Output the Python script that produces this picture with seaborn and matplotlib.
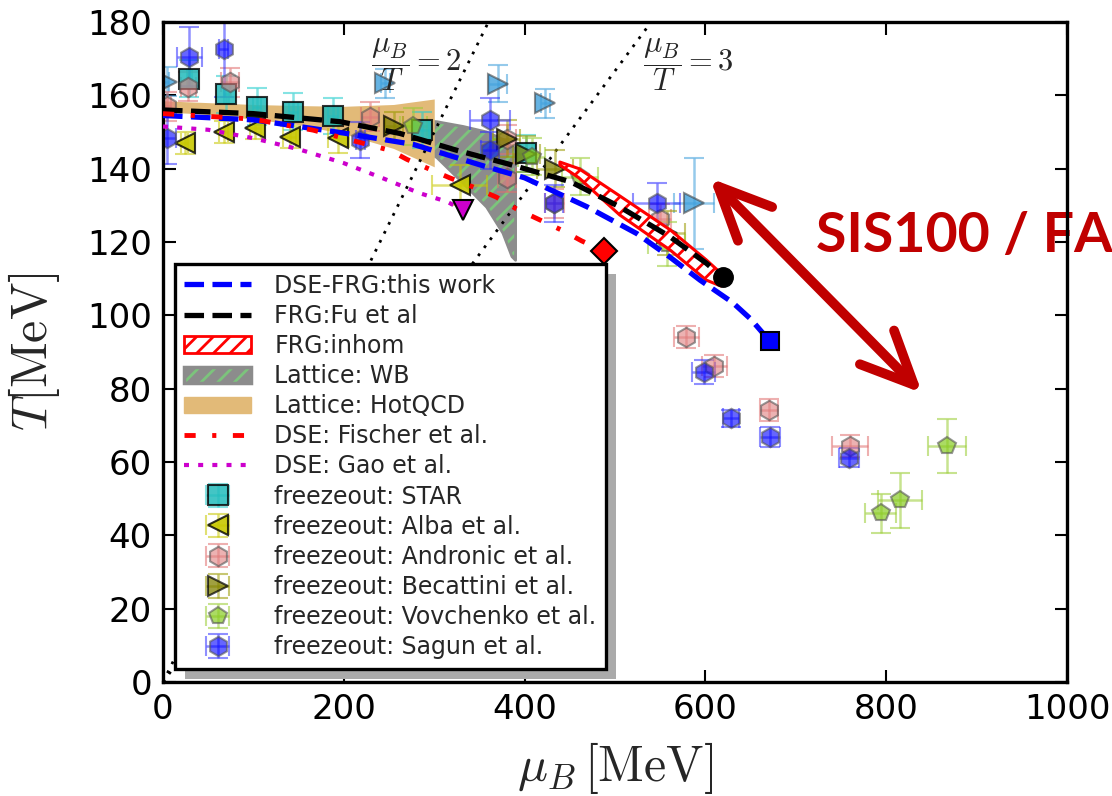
import numpy as np
import matplotlib
matplotlib.use("Agg")
import matplotlib.pyplot as plt
import seaborn as sns
from matplotlib.colors import to_rgba
from matplotlib.lines import Line2D
from matplotlib.patches import Patch, Rectangle, FancyArrowPatch
from matplotlib.transforms import IdentityTransform

sns.set_theme(style="ticks")
plt.rcParams["font.family"] = ["DejaVu Sans"]
plt.rcParams["mathtext.fontset"] = "cm"
plt.rcParams["hatch.linewidth"] = 2.0

#Crossover / transition lines
dse_frg_mu = [0, 100, 200, 277, 351, 400, 469, 524, 560, 594, 630, 650, 671]
dse_frg_T = [154.5, 153.3, 149.7, 146.6, 141, 137.5, 129.6, 122.3, 116, 109.6, 103.5, 99, 93]

frg_fu_mu = [0, 100, 196, 262, 325, 380, 451, 505, 561, 601, 619]
frg_fu_T = [156, 155, 152.8, 149.6, 145, 141.4, 136.4, 129.6, 121.4, 114.2, 110.4]

fischer_mu = [0, 100, 166, 220, 251, 270, 317, 343, 369, 391, 417, 443, 463, 488]
fischer_T = [155, 153.5, 150.5, 147, 145, 142.5, 137.5, 135, 132.2, 129, 126, 123, 120.3, 117.5]

gao_mu = [0, 50, 100, 150, 200, 244, 284, 314, 332]
gao_T = [151.5, 150.6, 148.3, 145.3, 141.5, 137.3, 133.3, 131, 128.7]

#Bands
hotqcd_mu = [0, 50, 100, 150, 200, 255, 300]
hotqcd_hi = [158.5, 158, 157.5, 157.2, 157, 157.5, 159]
hotqcd_lo = [155.5, 154.8, 153.5, 152, 149.5, 145.5, 140.5]

wb_mu = [290, 303, 332, 358, 376, 386, 390]
wb_hi = [153, 152.8, 151.5, 150, 148, 146, 145.5]
wb_lo = [145, 143, 136, 129.5, 122.4, 116, 115]

inhom_mu = [439, 460, 505, 561, 601, 617]
inhom_hi = [141.8, 140, 132.6, 123.3, 115.1, 111.5]
inhom_lo = [141, 137.5, 127.4, 117.8, 109.6, 108]

#mu_B/T = const lines
ratio2_mu = [0, 360]
ratio2_T = [0, 180]
ratio3_mu = [0, 540]
ratio3_T = [0, 180]

#Freeze-out data
star_mu = [29, 70, 104, 144, 188, 286, 402]
star_T = [164.5, 160.3, 156.9, 155.5, 154.4, 150.5, 144.2]
star_muerr = [3, 3, 4, 5, 6, 8, 10]
star_Terr = [5, 5, 5, 5, 5, 5, 5]

alba_mu = [24, 67, 102, 140, 194, 328]
alba_T = [147, 150, 151, 148.5, 148.3, 135.5]
alba_muerr = [4, 5, 6, 7, 12, 30]
alba_Terr = [3, 3, 3, 3, 4, 5.5]

andronic_mu = [4, 28, 74, 229, 380, 380, 433, 550, 579, 610, 670, 760]
andronic_T = [157, 162.4, 163.5, 154.2, 148, 137.5, 130.5, 126.4, 94.2, 86.3, 74.2, 64.4]
andronic_muerr = [5, 8, 10, 10, 10, 10, 10, 12, 14, 14, 10, 20]
andronic_Terr = [4, 4, 4, 4, 4, 4, 4, 4, 3, 3, 3, 3]

becattini_mu = [255, 380, 402, 434, 557]
becattini_T = [151.5, 148.2, 144, 140, 122.4]
becattini_muerr = [10, 15, 15, 20, 20]
becattini_Terr = [4, 5, 5, 5, 6]

vovchenko_mu = [277, 408, 461, 557, 794, 815, 867]
vovchenko_T = [151.5, 143.3, 137.8, 119.5, 46, 49.6, 64.4]
vovchenko_muerr = [15, 15, 20, 20, 17, 24, 21]
vovchenko_Terr = [5, 5, 5, 6, 5.3, 7.5, 7.4]

sagun_mu = [4, 29, 67, 218, 362, 362, 432, 546, 598, 628, 671, 759]
sagun_T = [148.3, 170.5, 172.5, 147.8, 153.3, 145, 130.5, 130.5, 84.6, 71.9, 66.9, 61.2]
sagun_muerr = [10, 14, 5, 5, 22, 10, 10, 26, 13, 9, 11, 11]
sagun_Terr = [7, 8, 13, 5, 6, 5, 5, 5.5, 3.2, 2.3, 2.7, 2.7]

other_mu = [4, 246, 371, 423, 587]
other_T = [163.7, 163.3, 163.2, 157.8, 130.5]
other_muerr = [3, 5, 10, 5, 22]
other_Terr = [4, 4, 5, 4, 12.3]

legend_labels = ["DSE-FRG:this work", "FRG:Fu et al", "FRG:inhom", "Lattice: WB",
                 "Lattice: HotQCD", "DSE: Fischer et al.", "DSE: Gao et al.",
                 "freezeout: STAR", "freezeout: Alba et al.", "freezeout: Andronic et al.",
                 "freezeout: Becattini et al.", "freezeout: Vovchenko et al.",
                 "freezeout: Sagun et al."]

#Figure
fig = plt.figure(figsize=(11.12, 7.96), dpi=100)
ax = fig.add_axes([0.1466, 0.1432, 0.813, 0.8292])

#Bands
ax.fill_between(hotqcd_mu, hotqcd_lo, hotqcd_hi, color="#E2BA78", lw=0, zorder=1.2)
ax.fill_between(wb_mu, wb_lo, wb_hi, facecolor="#8C8C8C", edgecolor="#7CC47C",
                hatch="//", lw=0, zorder=1.1)
ax.fill_between(wb_mu, wb_lo, wb_hi, facecolor="none", edgecolor="#8C8C8C", lw=2, zorder=1.1)
ax.fill_between(inhom_mu, inhom_lo, inhom_hi, facecolor="white", edgecolor="red",
                hatch="//", lw=2.2, zorder=2.6)

#Dotted mu_B/T lines
for xs, ys in [(ratio2_mu, ratio2_T), (ratio3_mu, ratio3_T)]:
    ax.plot(xs, ys, color="black", lw=2, ls=(0, (1, 2.6)), zorder=1.5)

#Freeze-out points
def freeze(xs, ys, xe, ye, marker, ms, face, fa, edge, ea, ecol, lab=None):
    return ax.errorbar(xs, ys, xerr=xe, yerr=ye, fmt=marker, ms=ms,
                       mfc=to_rgba(face, fa), mec=to_rgba(edge, ea), mew=1.5,
                       ecolor=to_rgba(ecol, 0.55), elinewidth=1.8, capsize=7,
                       capthick=1.8, ls="none", zorder=2, label=lab)

freeze(other_mu, other_T, other_muerr, other_Terr, ">", 14, "#3FA0DC", 0.8, "#444444", 0.6, "#3FA0DC")
eb_star = freeze(star_mu, star_T, star_muerr, star_Terr, "s", 14, "#22BBBB", 0.85, "black", 0.8, "#22CCCC")
eb_alba = freeze(alba_mu, alba_T, alba_muerr, alba_Terr, "<", 15, "#C8C800", 0.9, "black", 0.8, "#C8C800")
eb_andr = freeze(andronic_mu, andronic_T, andronic_muerr, andronic_Terr, "h", 14, "#E08080", 0.6, "#555555", 0.6, "#E07070")
eb_beca = freeze(becattini_mu, becattini_T, becattini_muerr, becattini_Terr, ">", 15, "#808000", 0.75, "black", 0.7, "#999900")
eb_vovc = freeze(vovchenko_mu, vovchenko_T, vovchenko_muerr, vovchenko_Terr, "p", 13, "#88CC22", 0.7, "#555555", 0.6, "#99CC33")
eb_sagn = freeze(sagun_mu, sagun_T, sagun_muerr, sagun_Terr, "h", 14, "#0000FF", 0.6, "#555555", 0.6, "#3333FF")

#Lines through seaborn
dash = (0, (3.7, 1.6))
dashdot = (0, (2.3, 3.4, 0.85, 3.4))
dotted = (0, (1.2, 2.2))
sns.lineplot(x=dse_frg_mu, y=dse_frg_T, ax=ax, sort=False, estimator=None,
             color="blue", lw=3.8, linestyle=dash, zorder=3)
sns.lineplot(x=frg_fu_mu, y=frg_fu_T, ax=ax, sort=False, estimator=None,
             color="black", lw=3.8, linestyle=dash, zorder=3)
sns.lineplot(x=fischer_mu, y=fischer_T, ax=ax, sort=False, estimator=None,
             color="red", lw=3.5, linestyle=dashdot, zorder=3)
sns.lineplot(x=gao_mu, y=gao_T, ax=ax, sort=False, estimator=None,
             color="#CC00CC", lw=3, linestyle=dotted, zorder=3)

#Critical end points
ax.plot(dse_frg_mu[-1], dse_frg_T[-1], "s", ms=13, mfc="blue", mec="black", mew=1.5, zorder=4)
ax.plot(frg_fu_mu[-1], frg_fu_T[-1], "o", ms=14, mfc="black", mec="black", zorder=4)
ax.plot(fischer_mu[-1], fischer_T[-1], "D", ms=13, mfc="red", mec="black", mew=1.5, zorder=4)
ax.plot(gao_mu[-1], gao_T[-1], "v", ms=15, mfc="#CC00CC", mec="black", mew=1.5, zorder=4)

#Texts and arrow
ax.text(230, 168.3, r"$\dfrac{\mu_B}{T}=2$", fontsize=22, va="center", ha="left", zorder=4)
ax.text(531, 168.3, r"$\dfrac{\mu_B}{T}=3$", fontsize=22, va="center", ha="left", zorder=4)
ax.text(722, 117.3, "SIS100 / FA", fontsize=40, fontweight="bold", family=["Lato", "DejaVu Sans"],
        color="#C00000", va="baseline", ha="left", clip_on=False, zorder=2)
arrow = FancyArrowPatch((605, 137.4), (839.6, 78.8), arrowstyle="<->,head_length=1.05,head_width=0.48",
                        mutation_scale=36, lw=7, color="#C00000", capstyle="round",
                        joinstyle="round", shrinkA=0, shrinkB=0, zorder=6)
ax.add_patch(arrow)

#Axes
ax.set_xlim(0, 1000)
ax.set_ylim(0, 180)
ax.set_xticks(range(0, 1001, 200))
ax.set_yticks(range(0, 181, 20))
ax.tick_params(direction="in", top=True, right=True, length=9, width=1.5,
               labelsize=24.5, pad=8, colors="black")
for sp in ax.spines.values():
    sp.set_linewidth(2.4)
    sp.set_color("black")
ax.set_xlabel(r"$\mu_B\,[\mathrm{MeV}]$", fontsize=36)
ax.set_ylabel(r"$T[\mathrm{MeV}]$", fontsize=36)
ax.xaxis.set_label_coords(0.5, -0.088)
ax.yaxis.set_label_coords(-0.112, 0.5)

#Legend
handles = [
    Line2D([], [], color="blue", lw=3.8, ls=dash),
    Line2D([], [], color="black", lw=3.8, ls=dash),
    Patch(facecolor="white", edgecolor="red", hatch="//", lw=2),
    (Patch(facecolor="#8C8C8C", edgecolor="#7CC47C", hatch="//", lw=0),
     Patch(facecolor="none", edgecolor="#8C8C8C", lw=2.5)),
    Patch(facecolor="#E2BA78", edgecolor="#E2BA78"),
    Line2D([], [], color="red", lw=3.5, ls=dashdot),
    Line2D([], [], color="#CC00CC", lw=3, ls=dotted),
    eb_star, eb_alba, eb_andr, eb_beca, eb_vovc, eb_sagn,
]
leg = ax.legend(handles, legend_labels, loc="upper left", bbox_to_anchor=(0.0133, 0.633),
                borderaxespad=0, fontsize=17, labelspacing=0.26, borderpad=0.4,
                handlelength=2.8, handletextpad=1.0, fancybox=False, framealpha=1,
                edgecolor="black")
leg.get_frame().set_linewidth(2.4)
leg.set_zorder(5)

#Shadow behind legend
fig.canvas.draw()
bb = leg.get_window_extent()
ax.add_patch(Rectangle((bb.x0 + 10, bb.y0 - 10), bb.width, bb.height, transform=IdentityTransform(),
                       facecolor="#AAAAAA", edgecolor="none", zorder=4.9))

fig.savefig("out.png", dpi=100)
